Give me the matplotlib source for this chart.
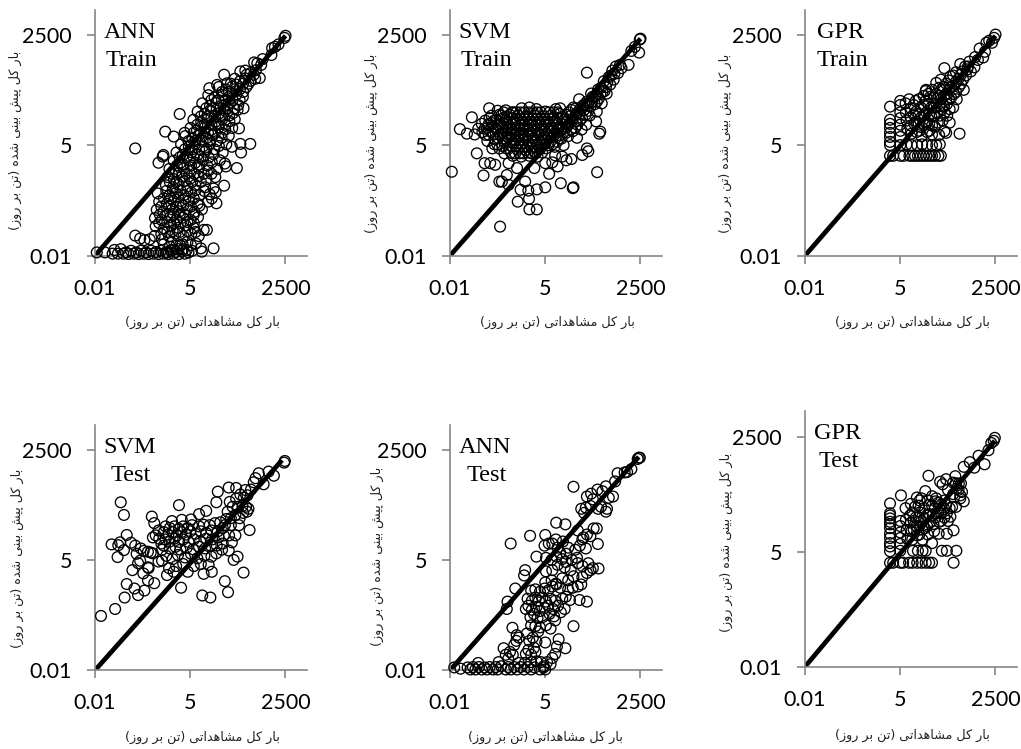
import numpy as np
import matplotlib
matplotlib.use('Agg')
import matplotlib.pyplot as plt

W, H = 1021, 749

ann_train = [
(-1.95,-1.92),(-1.72,-1.92),(-1.5,-1.95),(-1.45,-1.86),(-1.35,-1.95),(-1.27,-1.84),(-1.2,-1.95),(-1.12,-1.92),(-1.05,-1.96),(-0.98,-1.88),
(-0.9,-1.95),(-0.83,-1.92),(-0.76,-1.96),(-0.7,-1.88),(-0.62,-1.95),(-0.55,-1.92),(-0.48,-1.96),(-0.41,-1.88),(-0.34,-1.95),(-0.27,-1.91),
(-0.2,-1.96),(-0.13,-1.88),(-0.06,-1.95),(0.01,-1.92),(0.08,-1.96),(0.15,-1.88),(0.22,-1.95),(0.3,-1.91),(0.38,-1.96),(0.46,-1.88),
(0.55,-1.95),(0.65,-1.92),(0.75,-1.88),(1.03,-1.9),(1.0,-1.82),(1.36,-1.82),(-0.86,-1.51),(-0.72,-1.58),(-0.6,-1.62),(-0.45,-1.6),
(-0.05,-1.72),(0.18,-1.68),(0.41,-1.74),(0.62,-1.66),(0.86,-1.7),(-0.31,-1.52),(-0.12,-1.47),(0.1,-1.53),(0.28,-1.46),(0.51,-1.52),
(0.73,-1.47),(0.94,-1.52),(-0.28,-1.28),(-0.04,-1.33),(0.16,-1.27),(0.36,-1.32),(0.57,-1.26),(0.81,-1.33),(1.08,-1.37),(1.17,-1.37),
(-0.3,-1.08),(-0.11,-1.13),(0.13,-1.06),(0.31,-1.12),(0.49,-1.07),(0.71,-1.13),(0.92,-1.06),(-0.25,-0.88),(-0.06,-0.93),(0.19,-0.87),
(0.39,-0.92),(0.61,-0.86),(0.82,-0.93),(1.03,-0.87),(-0.18,-0.68),(0.04,-0.73),(0.23,-0.67),(0.43,-0.72),(0.66,-0.66),(0.91,-0.73),
(1.21,-0.68),(-0.22,-0.48),(0.11,-0.53),(0.29,-0.47),(0.52,-0.52),(0.73,-0.46),(0.96,-0.52),(1.31,-0.6),(1.44,-0.72),(1.42,-0.45),
(0.01,-0.28),(0.21,-0.33),(0.37,-0.26),(0.62,-0.31),(0.84,-0.27),(1.12,-0.33),(1.36,-0.36),(1.66,-0.29),(1.25,-0.5),(0.06,-0.08),
(0.24,-0.13),(0.46,-0.07),(0.69,-0.12),(0.93,-0.06),(1.16,-0.13),(1.41,-0.08),(0.11,0.12),(0.29,0.06),(0.51,0.13),(0.73,0.07),
(0.94,0.14),(1.22,0.08),(1.46,0.12),(2.02,0.14),(0.23,0.32),(0.41,0.26),(0.66,0.33),(0.84,0.27),(1.06,0.34),(1.31,0.28),
(1.54,0.33),(1.71,0.18),(1.68,0.25),(-0.2,0.27),(-0.06,0.46),(-0.08,0.42),(0.31,0.52),(0.49,0.46),(0.73,0.53),(0.91,0.47),
(1.12,0.54),(1.36,0.48),(1.62,0.52),(2.14,0.52),(2.12,0.73),(2.4,0.73),(0.44,0.72),(0.66,0.66),(0.84,0.73),(1.06,0.67),
(1.26,0.74),(1.51,0.68),(1.72,0.72),(1.88,0.66),(-0.86,0.62),(0.56,0.92),(0.76,0.86),(0.94,0.93),(1.16,0.87),(1.34,0.94),
(1.59,0.88),(1.79,0.93),(0.23,0.91),(-0.01,1.03),(0.54,1.0),(0.71,1.12),(0.89,1.06),(1.11,1.13),(1.29,1.07),(1.51,1.14),
(1.69,1.08),(1.89,1.12),(2.08,1.11),(0.79,1.32),(1.01,1.26),(1.19,1.33),(1.41,1.27),(1.61,1.34),(1.81,1.28),(1.96,1.33),
(0.4,1.46),(0.91,1.52),(1.11,1.46),(1.29,1.53),(1.51,1.47),(1.69,1.54),(1.91,1.48),(2.04,1.56),(2.21,1.6),(1.04,1.72),
(1.26,1.66),(1.44,1.73),(1.66,1.67),(1.84,1.74),(2.06,1.68),(1.21,1.92),(1.39,1.86),(1.61,1.93),(1.79,1.87),(2.01,1.94),
(2.19,1.88),(1.24,2.09),(1.51,2.12),(1.71,2.06),(1.89,2.13),(2.11,2.07),(2.29,2.12),(1.46,2.17),(1.74,2.21),(1.96,2.32),
(2.11,2.26),(2.26,2.33),(2.41,2.27),(2.54,2.32),(1.66,2.42),(2.12,2.5),(2.26,2.52),(2.41,2.46),(2.56,2.53),(2.67,2.34),
(2.51,2.72),(2.6,2.7),(2.71,2.66),(2.75,2.8),(3.02,3.07),(3.0,2.9),(3.1,3.1),(3.2,3.16),(3.4,3.37),(3.37,3.32),
# the dark middle of the cloud
(0.05,-1.92),(0.2,-1.86),(0.35,-1.84),(0.5,-1.84),(0.6,-1.86),(0.12,-1.78),(0.3,-1.76),(0.48,-1.72),(0.72,-1.74),(-0.1,-1.6),
(0.05,-1.42),(0.2,-1.4),(0.4,-1.42),(0.62,-1.4),(0.85,-1.42),(-0.18,-1.2),(0.05,-1.18),(0.24,-1.2),(0.42,-1.2),(0.62,-1.18),
(0.8,-1.2),(-0.16,-1.0),(0.05,-1.0),(0.22,-0.98),(0.4,-1.0),(0.56,-1.0),(0.8,-1.0),(-0.12,-0.8),(0.1,-0.8),(0.3,-0.8),
(0.5,-0.78),(0.72,-0.8),(0.96,-0.78),(-0.05,-0.6),(0.15,-0.6),(0.35,-0.58),(0.56,-0.6),(0.8,-0.6),(0.02,-0.42),(0.2,-0.4),
(0.42,-0.4),(0.62,-0.42),(0.85,-0.4),(1.1,-0.42),(0.12,-0.2),(0.3,-0.2),(0.52,-0.18),(0.75,-0.2),(1.0,-0.2),(0.18,0.0),
(0.38,0.02),(0.6,0.0),(0.82,0.0),(1.08,0.0),(1.3,0.0),(0.32,0.2),(0.5,0.22),(0.72,0.2),(0.95,0.22),(1.18,0.2),
(0.4,0.4),(0.6,0.4),(0.8,0.4),(1.0,0.42),(1.22,0.4),(0.55,0.6),(0.75,0.6),(0.95,0.6),(1.16,0.6),(1.38,0.6),
(0.65,0.8),(0.85,0.8),(1.05,0.8),(1.25,0.8),(1.46,0.8),(0.8,1.0),(1.0,1.0),(1.2,1.0),(1.4,1.0),(1.6,1.0),
(0.9,1.2),(1.1,1.2),(1.3,1.2),(1.5,1.2),(1.7,1.2),(1.0,1.4),(1.2,1.4),(1.4,1.4),(1.6,1.4),(1.8,1.42),
(1.15,1.6),(1.35,1.6),(1.55,1.6),(1.75,1.6),(1.95,1.6),(1.3,1.8),(1.5,1.8),(1.7,1.8),(1.9,1.8),(2.1,1.8),
(1.6,2.0),(1.8,2.0),(2.0,2.02),(2.2,2.0),(1.85,2.2),(2.0,2.18),(2.2,2.2),(2.35,2.2),(2.3,2.42),(2.5,2.42),
]

svm_train = [
(-1.95,0.05),(-1.72,1.09),(-1.38,1.38),(-0.89,1.6),(-0.58,-1.29),(-0.08,-0.68),(0.25,-0.87),(0.46,-0.87),(0.24,-0.61),(0.0,-0.39),
(0.22,-0.41),(0.46,-0.38),(0.7,-0.33),(1.14,-0.23),(1.48,-0.35),(1.5,-0.33),(2.17,0.04),(2.26,1.03),(2.23,0.98),(1.88,2.47),
(-1.05,-0.04),(-0.6,-0.19),(-0.53,-0.19),(-0.34,-0.27),(0.13,-0.19),(-0.39,-0.03),(0.81,0.0),(-1.24,0.5),(-1.02,0.26),(-0.86,0.26),
(-0.72,0.22),(-0.34,0.26),(-0.1,0.14),(0.39,0.14),(0.7,0.26),(0.9,0.28),(1.05,0.18),(1.3,0.33),(1.44,0.36),(1.75,0.46),
(1.88,0.62),(1.92,0.55),(1.18,0.42),(0.98,0.45),(-1.52,0.98),(-1.3,0.96),(-1.2,1.1),(-1.1,1.22),(-1.0,1.3),(-0.82,1.42),
(-0.65,1.54),(-0.42,1.55),(-0.2,1.5),(0.03,1.6),(0.25,1.62),(0.45,1.58),(0.7,1.52),(1.0,1.58),(1.12,1.6),
(-1.08,1.02),(-0.95,1.12),(-0.94,0.8),(-0.8,0.62),(-0.83,1.02),(-0.82,1.24),(-0.72,0.84),(-0.7,1.1),(-0.68,1.32),(-0.6,0.62),
(-0.58,0.96),(-0.57,1.22),(-0.55,1.42),(-0.46,0.5),(-0.46,0.78),(-0.44,1.06),(-0.43,1.3),(-0.35,0.9),(-0.33,0.62),(-0.32,1.16),
(-0.31,1.44),(-0.22,0.44),(-0.22,0.76),(-0.2,1.02),(-0.19,1.28),(-0.1,0.9),(-0.1,0.6),(-0.08,1.14),(-0.07,1.42),(0.02,0.42),
(0.02,0.74),(0.03,1.0),(0.05,1.26),(0.13,0.88),(0.14,0.58),(0.15,1.14),(0.17,1.4),(0.25,0.44),(0.26,0.72),(0.27,1.0),
(0.28,1.26),(0.36,0.86),(0.37,0.56),(0.38,1.14),(0.4,1.42),(0.48,0.42),(0.49,0.72),(0.5,1.0),(0.52,1.26),(0.6,0.86),
(0.61,0.52),(0.62,1.14),(0.63,1.4),(0.72,0.62),(0.73,0.98),(0.74,1.26),(0.84,0.78),(0.85,1.12),(0.86,1.42),(0.97,0.66),
(0.97,0.96),(0.98,1.28),(1.1,0.86),(1.1,1.14),(1.11,1.46),(1.22,0.7),(1.23,1.02),(1.24,1.32),(1.35,0.92),(1.36,1.2),
(1.37,1.5),(1.48,1.04),(1.48,1.34),(1.5,1.62),(1.6,0.88),(1.61,1.2),(1.62,1.5),(1.66,1.82),(1.73,1.08),(1.74,1.36),
(1.76,1.66),(1.84,1.44),(1.86,1.2),(1.88,1.76),(1.96,1.42),(1.98,1.64),(2.0,1.96),(2.1,1.7),(2.12,1.9),(2.14,1.28),
(2.16,1.52),(2.2,2.06),(2.22,1.84),(2.3,1.72),(2.32,2.0),(2.36,2.26),(2.42,2.12),(2.44,1.96),(2.5,2.36),(2.54,2.18),
(2.6,2.52),(2.64,2.3),(2.7,2.62),(2.76,2.46),(2.82,2.66),(2.86,2.58),(3.06,2.66),(3.14,3.0),(3.24,3.1),(3.36,2.96),(3.4,3.3),(3.38,3.28),
# the black blob
(-1.0,0.95),(-1.02,1.1),(-0.9,0.95),(-0.9,1.22),(-0.88,1.36),(-0.76,0.96),(-0.76,1.15),(-0.75,1.3),(-0.74,0.72),(-0.66,0.72),
(-0.64,0.88),(-0.63,1.04),(-0.62,1.18),(-0.6,1.44),(-0.52,0.68),(-0.51,0.86),(-0.5,0.98),(-0.5,1.14),(-0.49,1.36),(-0.48,1.5),
(-0.4,0.62),(-0.39,0.82),(-0.38,0.98),(-0.38,1.12),(-0.37,1.24),(-0.36,1.38),(-0.27,0.52),(-0.27,0.68),(-0.26,0.84),(-0.26,0.96),
(-0.25,1.1),(-0.25,1.22),(-0.24,1.36),(-0.24,1.5),(-0.15,0.5),(-0.15,0.68),(-0.15,0.82),(-0.14,0.98),(-0.14,1.08),(-0.14,1.22),
(-0.13,1.34),(-0.12,1.5),(-0.03,0.5),(-0.03,0.66),(-0.03,0.82),(-0.02,0.94),(-0.02,1.08),(-0.02,1.2),(-0.01,1.34),(-0.01,1.5),
(0.08,0.5),(0.08,0.66),(0.08,0.82),(0.09,0.94),(0.09,1.08),(0.1,1.2),(0.1,1.34),(0.11,1.5),(0.2,0.52),(0.2,0.66),
(0.2,0.8),(0.21,0.94),(0.21,1.08),(0.22,1.2),(0.22,1.34),(0.23,1.5),(0.31,0.5),(0.31,0.64),(0.32,0.8),(0.32,0.94),
(0.33,1.06),(0.33,1.2),(0.34,1.34),(0.35,1.5),(0.43,0.5),(0.43,0.64),(0.44,0.8),(0.44,0.94),(0.45,1.06),(0.45,1.2),
(0.46,1.34),(0.47,1.5),(0.55,0.6),(0.55,0.78),(0.56,0.94),(0.56,1.06),(0.57,1.2),(0.57,1.34),(0.58,1.5),(0.66,0.72),
(0.67,0.86),(0.67,1.06),(0.68,1.2),(0.68,1.34),(0.79,0.7),(0.79,0.88),(0.8,1.04),(0.8,1.2),(0.81,1.34),(0.81,1.5),
(0.9,0.72),(0.91,0.9),(0.92,1.04),(0.92,1.2),(0.93,1.36),(0.94,1.5),(1.03,0.78),(1.04,0.94),(1.04,1.08),(1.05,1.22),
(1.05,1.36),(1.06,1.5),(1.16,0.86),(1.16,1.08),(1.17,1.22),(1.18,1.38),(1.29,1.0),(1.3,1.14),(1.3,1.28),(1.31,1.44),
(1.42,1.08),(1.42,1.26),(1.43,1.42),(1.44,1.56),(1.55,1.12),(1.56,1.28),(1.56,1.44),(1.57,1.6),(1.68,1.3),(1.68,1.46),
(1.7,1.6),(1.8,1.56),(1.82,1.7),(1.92,1.54),(1.92,1.72),(2.03,1.76),(2.04,1.88),(2.16,1.92),(2.16,1.76),(2.26,1.94),
(2.28,2.1),(2.38,2.02),(2.46,2.24),(2.56,2.4),(2.66,2.44),
]

gpr_train = [
(0.41,1.64),(0.41,1.32),(0.41,1.22),(0.41,1.12),(0.41,1.0),(0.41,0.9),(0.41,0.78),(0.41,0.7),(0.41,0.44),(0.5,0.44),
(0.7,1.78),(0.7,1.68),(0.7,1.5),(0.7,1.36),(0.7,1.2),(0.7,1.05),(0.7,0.9),(0.7,0.7),(0.7,0.44),(0.8,0.44),
(0.96,0.44),(1.04,0.44),(1.12,0.44),(1.2,0.44),(1.28,0.44),(1.36,0.44),(1.44,0.44),(1.52,0.44),(1.6,0.44),(1.68,0.44),(1.78,0.44),(1.85,0.44),
(0.88,0.72),(1.02,0.7),(1.18,0.7),(1.32,0.72),(1.46,0.7),(1.6,0.7),(1.72,0.7),(1.82,0.72),
(0.95,1.82),(1.0,1.6),(1.0,1.38),(1.0,1.18),(1.02,0.98),(1.14,1.78),(1.15,1.52),(1.16,1.28),(1.16,1.02),(1.22,1.82),(1.28,1.62),
(1.3,1.38),(1.3,1.14),(1.3,0.92),(1.42,2.02),(1.42,1.78),(1.44,1.5),(1.45,1.26),(1.46,1.02),(1.43,2.05),(1.6,2.05),(1.55,1.88),
(1.58,1.62),(1.58,1.4),(1.6,1.18),(1.6,0.96),(1.72,2.22),(1.72,1.95),(1.72,1.72),(1.74,1.48),(1.76,1.25),(1.8,0.95),(1.85,2.3),
(1.86,2.05),(1.86,1.82),(1.88,1.58),(1.9,1.3),(1.95,2.58),(1.95,1.04),(2.0,2.2),(2.0,1.95),(2.02,1.7),(2.03,1.42),
(2.0,1.0),(2.12,2.38),(2.14,2.12),(2.14,1.86),(2.2,1.62),(2.1,1.25),(2.28,2.48),(2.28,2.25),(2.28,2.0),(2.3,1.82),(2.38,0.98),
(2.4,2.68),(2.42,2.42),(2.42,2.2),(2.5,2.05),(2.54,2.62),(2.56,2.4),(2.66,2.74),(2.7,2.5),(2.8,2.6),(2.82,2.85),(2.9,2.78),
(2.95,3.06),(3.05,2.84),(3.1,2.98),(3.14,3.2),(3.22,3.25),(3.3,3.2),(3.4,3.4),(3.36,3.32),
# the dark part beside the line
(0.85,1.72),(0.86,1.5),(0.88,1.3),(0.9,1.1),(1.08,1.68),(1.08,1.45),(1.1,1.22),(1.22,1.45),(1.22,1.22),(1.24,1.05),
(1.36,1.9),(1.36,1.68),(1.38,1.45),(1.38,1.2),(1.5,1.95),(1.5,1.7),(1.52,1.45),(1.52,1.22),(1.52,1.05),(1.65,1.85),
(1.66,1.62),(1.66,1.4),(1.68,1.15),(1.8,2.1),(1.8,1.9),(1.8,1.65),(1.82,1.42),(1.93,2.12),(1.94,1.9),(1.94,1.65),
(1.96,1.5),(2.08,2.28),(2.08,2.05),(2.08,1.82),(2.1,1.58),(2.2,2.4),(2.2,2.15),(2.22,1.95),(2.35,2.32),(2.36,2.12),
(2.46,2.5),(2.48,2.3),(2.6,2.55),(2.62,2.62),
]

svm_test = [
(-1.83,-0.67),(-1.43,-0.5),(-1.16,-0.22),(-1.1,0.11),(-0.88,0.0),(-0.78,-0.16),(-0.6,-0.05),(-0.32,0.13),(-0.5,0.2),(-0.63,0.37),
(-0.48,0.5),(-0.5,0.52),(-0.94,0.45),(-1.53,1.08),(-1.34,1.06),(-1.29,1.13),(-1.18,0.94),(-1.36,0.77),(-1.1,1.31),(-1.27,2.11),
(-1.18,1.8),(-0.98,1.12),(-0.86,1.05),(-0.82,0.85),(-0.78,0.62),(-0.72,0.68),(-0.7,0.98),(-0.62,0.92),(-0.5,0.9),(-0.42,0.88),
(-0.36,0.86),(-0.2,0.66),(-0.1,0.68),(-0.39,1.76),(-0.32,1.6),(-0.36,1.25),(-0.28,1.3),(-0.2,1.42),(-0.12,1.1),(-0.1,0.95),
(0.18,1.65),(0.38,2.04),(0.46,1.68),(0.72,1.69),(0.95,1.82),(1.15,1.9),(1.44,2.11),(1.48,2.37),(1.79,2.47),(2.0,2.46),
(2.64,2.82),(2.92,2.86),(3.07,2.76),(2.78,2.55),(2.5,2.6),(2.26,2.41),(2.31,1.88),(2.38,1.43),(2.21,0.39),(2.04,0.78),
(1.93,0.7),(1.68,0.18),(1.77,-0.09),(1.27,-0.22),(1.04,-0.17),(1.08,0.36),(1.31,0.41),(1.22,0.58),(0.44,0.02),(0.04,0.33),
(0.23,0.41),(0.63,0.41),(1.88,1.13),(1.79,0.93),(1.44,0.86),(0.1,0.5),(0.3,0.55),(0.5,0.6),(0.8,0.55),(1.0,0.6),
(0.02,0.8),(0.2,0.72),(0.35,0.82),(0.55,0.76),(0.72,0.85),(0.9,0.74),(1.1,0.8),(1.3,0.78),(1.6,0.95),(-0.05,1.05),
(0.12,0.98),(0.28,1.02),(0.42,0.95),(0.6,1.0),(0.78,0.96),(0.95,1.02),(1.12,0.98),(1.28,1.05),(1.45,1.05),(1.62,1.1),
(-0.18,1.22),(0.0,1.2),(0.12,1.15),(0.25,1.22),(0.38,1.14),(0.5,1.2),(0.65,1.14),(0.8,1.2),(0.98,1.16),(1.15,1.22),
(1.32,1.2),(1.5,1.25),(1.65,1.3),(1.8,1.3),(1.98,1.3),(2.08,1.55),(-0.05,1.38),(0.08,1.32),(0.2,1.38),(0.32,1.3),
(0.45,1.38),(0.58,1.32),(0.7,1.4),(0.85,1.34),(1.0,1.4),(1.15,1.36),(1.3,1.42),(1.48,1.4),(1.62,1.48),(1.85,1.55),
(0.0,1.52),(0.12,1.48),(0.25,1.52),(0.38,1.46),(0.5,1.52),(0.62,1.48),(0.75,1.55),(0.95,1.52),(1.08,1.56),(1.25,1.55),
(1.4,1.6),(1.55,1.62),(1.72,1.7),(1.85,1.72),(1.98,1.8),(2.1,1.72),(2.2,1.85),(2.18,2.02),(1.9,2.0),(1.82,2.12),
(1.76,1.88),(2.05,2.0),(2.28,2.0),(2.35,1.95),(2.0,2.2),(2.12,2.3),(2.22,2.22),(2.32,2.28),(1.68,1.55),
(2.55,2.7),(3.36,3.08),(3.38,3.12),(2.42,2.42),
]

ann_test = [
(-1.88,-1.93),(-1.7,-1.96),(-1.5,-1.93),(-1.42,-1.98),(-1.35,-1.92),(-1.28,-1.98),(-1.2,-1.82),(-1.18,-1.92),(-1.1,-1.98),(-1.02,-1.93),
(-0.95,-1.98),(-0.88,-1.92),(-0.78,-1.98),(-0.7,-1.92),(-0.65,-1.98),(-0.62,-1.8),(-0.55,-1.9),(-0.42,-1.98),(-0.35,-1.92),(-0.28,-1.98),
(-0.18,-1.92),(-0.1,-1.98),(0.0,-1.92),(0.1,-1.98),(0.2,-1.92),(0.3,-1.98),(0.4,-1.93),(0.55,-1.98),(0.65,-1.93),(0.7,-1.98),(0.66,-1.9),
(-0.05,-1.82),(0.12,-1.82),(0.3,-1.8),(0.45,-1.78),(0.58,-1.8),(0.75,-1.8),(0.85,-1.85),
(-0.48,-1.46),(-0.42,-1.62),(-0.35,-1.72),(-0.3,-1.55),(-0.22,-1.62),(-0.11,-1.14),(-0.23,-0.96),(-0.18,-1.38),(-0.12,-1.28),(-0.05,-1.2),
(0.15,-1.6),(0.22,-1.5),(0.3,-1.62),(0.38,-1.45),(0.25,-1.28),(0.35,-1.2),(0.45,-1.3),(0.18,-1.1),(0.5,-1.05),(0.42,-1.55),
(0.7,-1.32),(1.08,-1.24),(1.27,-1.46),(1.03,-1.42),(0.98,-1.6),(0.9,-1.7),(0.3,-0.9),(0.42,-0.92),(0.55,-0.95),(0.72,-0.9),
(0.85,-0.98),(0.98,-0.78),(1.5,-0.92),(0.28,-0.7),(0.38,-0.62),(0.48,-0.72),(0.62,-0.7),(0.82,-0.62),(0.95,-0.68),(1.25,-0.5),
(0.15,-0.5),(0.22,-0.42),(0.32,-0.52),(0.45,-0.45),(0.55,-0.55),(0.68,-0.48),(0.78,-0.42),(0.92,-0.5),(1.06,-0.42),(1.14,-0.58),
(0.2,-0.25),(0.32,-0.3),(0.42,-0.22),(0.52,-0.3),(0.62,-0.22),(0.72,-0.32),(0.85,-0.25),(0.98,-0.3),(1.18,-0.25),(1.28,-0.2),
(1.4,-0.28),(1.67,-0.28),(1.88,-0.32),(-0.37,-0.32),(-0.39,-0.5),(-0.15,0.0),(0.13,0.45),(0.1,0.32),(0.3,-0.05),(0.42,-0.02),
(0.55,-0.08),(0.68,0.0),(0.78,-0.05),(0.9,0.05),(1.02,0.1),(1.12,0.02),(1.35,-0.02),(1.48,0.02),(1.62,0.05),(1.72,0.1),
(0.7,0.15),(0.88,0.2),(1.0,0.12),(1.18,0.25),(1.35,0.2),(1.5,0.3),(1.75,0.28),(1.88,0.38),(1.98,0.45),(2.21,0.49),
(0.45,0.78),(0.72,0.42),(0.9,0.45),(1.05,0.58),(1.25,0.52),(1.42,0.45),(1.62,0.62),(1.75,0.55),(1.92,0.62),(2.05,0.5),
(0.72,0.75),(0.88,0.7),(1.02,0.78),(1.18,0.72),(1.28,0.65),(1.45,0.7),(1.6,0.75),(1.3,0.85),(1.12,0.88),(0.9,1.1),
(0.68,1.05),(0.8,1.1),(1.0,1.2),(1.05,1.0),(1.2,1.15),(1.35,1.0),(1.55,0.95),(1.68,1.05),(1.85,0.98),(1.75,1.2),
(-0.28,1.1),(0.27,1.29),(0.7,1.31),(1.01,1.61),(1.27,1.57),(1.5,2.49),(2.19,1.09),(2.07,1.47),(2.16,1.47),(1.88,1.32),
(1.98,1.28),(1.78,1.25),(1.62,1.42),(1.8,1.85),(1.72,1.95),(1.85,1.98),(1.98,2.02),(2.05,2.18),(2.2,1.95),(2.28,2.0),
(2.42,1.88),(2.45,1.95),(1.88,2.25),(2.0,2.32),(2.18,2.42),(2.32,2.38),(2.42,2.5),(2.5,2.22),(2.62,2.25),(2.68,2.62),(2.75,2.82),(2.95,2.84),
(3.14,2.92),(3.02,2.85),(3.35,3.2),(3.32,3.17),(3.38,3.2),
]

gpr_test = [
(0.41,1.83),(0.41,1.6),(0.41,1.55),(0.41,1.48),(0.41,1.4),(0.41,1.34),(0.41,1.25),(0.41,1.12),(0.41,1.02),(0.41,0.9),(0.41,0.82),(0.41,0.71),(0.41,0.44),(0.5,0.44),
(0.7,1.42),(0.7,1.3),(0.7,1.15),(0.7,1.02),(0.7,0.88),(0.7,0.72),(0.7,0.44),(0.78,0.44),(0.95,0.44),(1.05,0.44),(1.18,0.44),(1.3,0.44),(1.42,0.44),(1.52,0.44),(1.6,0.44),
(0.72,2.02),(1.0,1.82),(0.98,1.55),(1.0,1.38),(1.02,1.18),(1.04,0.98),(1.06,0.72),(1.2,0.72),(1.33,0.72),(1.42,0.72),(1.6,0.9),(1.88,0.72),(2.02,0.72),(2.29,0.72),(2.21,0.44),
(1.12,1.75),(1.14,1.5),(1.16,1.3),(1.18,1.08),(1.26,1.62),(1.3,1.42),(1.32,1.22),(1.33,0.98),(1.17,1.97),(1.25,1.9),(1.45,1.55),(1.46,1.3),(1.48,1.1),
(1.41,2.12),(1.6,1.78),(1.62,1.55),(1.64,1.35),(1.66,1.18),(1.78,1.85),(1.78,1.62),(1.8,1.4),(1.5,2.48),(1.83,2.34),(1.95,1.9),(1.95,1.7),(1.95,1.5),
(2.0,2.4),(2.1,1.72),(2.12,1.52),(2.21,1.2),(2.02,1.12),(1.79,1.12),(2.26,2.47),(2.28,1.75),(2.3,2.18),(2.17,1.75),(2.4,1.95),(2.28,2.3),(1.9,2.28),
(2.4,2.02),(2.5,1.88),(2.42,2.3),(2.5,2.69),(2.67,2.8),(2.35,2.15),(2.45,2.1),(2.2,2.05),(2.05,2.15),(1.6,2.0),(1.72,1.95),
(2.92,2.95),(2.8,2.67),(3.09,2.75),(3.2,3.08),(3.28,3.25),(3.35,3.3),(3.38,3.37),
(0.85,1.72),(0.86,1.45),(0.88,1.2),(0.9,1.0),(1.05,1.62),(1.08,1.42),(1.08,1.22),(1.22,1.78),(1.22,1.5),(1.24,1.3),(1.24,1.1),(1.38,1.72),
(1.38,1.48),(1.4,1.25),(1.52,1.8),(1.52,1.58),(1.54,1.38),(1.68,1.72),(1.7,1.5),(1.86,1.8),(1.86,1.6),(1.86,1.42),(2.0,1.8),(2.02,1.6),
(2.05,1.42),(1.3,1.95),(1.48,1.9),(1.7,1.88),(2.2,2.32),(2.36,2.3),
]

x_ticks = [0.01, 5, 2500]
tick_labels = ['0.01', '5', '2500']
line_start = 0.01
line_end = [(3.4, 3.37), (3.4, 3.3), (3.4, 3.37), (3.3, 3.14), (3.35, 3.22), (3.38, 3.3)]

model_names = ['ANN', 'SVM', 'GPR', 'SVM', 'ANN', 'GPR']
set_names = ['Train', 'Train', 'Train', 'Test', 'Test', 'Test']
panel_data = [ann_train, svm_train, gpr_train, svm_test, ann_test, gpr_test]

x_title = 'بار کل مشاهداتی (تن بر روز)'
y_title = 'بار کل پیش بینی شده (تن بر روز)'

# left, top, bottom in pixels, the axes are all 212 wide
boxes = [(95, 10, 255.7), (450, 10, 255.7), (805, 10, 255.7),
         (95, 425, 670.3), (450, 425, 670.3), (805, 411, 666.7)]
name_pos = [(130, 32), (485, 32), (841, 32), (130, 447), (485, 447), (838, 433)]
set_pos = [(131, 61), (486, 61), (842, 61), (131, 475), (487, 475), (839, 461)]
xlabel_pos = [(202, 322), (557, 322), (912, 322), (202, 737), (545, 737), (912, 735)]
ylabel_pos = [(15, 140), (371, 143), (725, 143), (17, 558), (377, 556), (726, 542)]

# matplotlib does no arabic shaping, so pick the presentation forms by hand
forms = {
    'ا': (0xFE8D, 0xFE8E), 'د': (0xFEA9, 0xFEAA), 'ر': (0xFEAD, 0xFEAE),
    'ز': (0xFEAF, 0xFEB0), 'و': (0xFEED, 0xFEEE),
    'ب': (0xFE8F, 0xFE90, 0xFE91, 0xFE92), 'پ': (0xFB56, 0xFB57, 0xFB58, 0xFB59),
    'ت': (0xFE95, 0xFE96, 0xFE97, 0xFE98), 'ش': (0xFEB5, 0xFEB6, 0xFEB7, 0xFEB8),
    'ک': (0xFB8E, 0xFB8F, 0xFB90, 0xFB91), 'ل': (0xFEDD, 0xFEDE, 0xFEDF, 0xFEE0),
    'م': (0xFEE1, 0xFEE2, 0xFEE3, 0xFEE4), 'ن': (0xFEE5, 0xFEE6, 0xFEE7, 0xFEE8),
    'ه': (0xFEE9, 0xFEEA, 0xFEEB, 0xFEEC), 'ی': (0xFBFC, 0xFBFD, 0xFBFE, 0xFBFF),
}

def shape(text):
    out = []
    for i, c in enumerate(text):
        if c not in forms:
            out.append({'(': ')', ')': '('}.get(c, c))
            continue
        prev = text[i - 1] if i > 0 else ' '
        nxt = text[i + 1] if i + 1 < len(text) else ' '
        joins_prev = prev in forms and len(forms[prev]) == 4
        joins_next = nxt in forms and len(forms[c]) == 4
        if joins_prev and joins_next:
            k = 3
        elif joins_next:
            k = 2
        elif joins_prev:
            k = 1
        else:
            k = 0
        out.append(chr(forms[c][k]))
    return ''.join(out[::-1])

def put_text(fig, px, py, s, **kw):
    fig.text(px / W, 1 - py / H, s, ha='center', va='center', **kw)

fig = plt.figure(figsize=(W / 100, H / 100), dpi=100)

for i, pts in enumerate(panel_data):
    left, top, bottom = boxes[i]
    ax = fig.add_axes([left / W, 1 - bottom / H, 211.7 / W, (bottom - top) / H])
    pts = np.array(pts)
    obs = 10.0 ** pts[:, 0]
    pred = 10.0 ** pts[:, 1]
    ax.scatter(obs, pred, s=60, facecolors='none', edgecolors='black', linewidths=0.95, clip_on=False, zorder=3)
    ex, ey = line_end[i]
    ax.plot([line_start, 10 ** ex], [line_start, 10 ** ey], color='black', lw=3.4, solid_capstyle='butt', zorder=2)
    ax.set_xscale('log')
    ax.set_yscale('log')
    ax.set_xlim(0.01, 10000)
    ax.set_ylim(0.01, 10000)
    ax.set_xticks(x_ticks)
    ax.set_yticks(x_ticks)
    ax.set_xticklabels(tick_labels)
    ax.set_yticklabels(tick_labels)
    ax.minorticks_off()
    ax.spines['top'].set_visible(False)
    ax.spines['right'].set_visible(False)
    for side in ['left', 'bottom']:
        ax.spines[side].set_color('#868686')
        ax.spines[side].set_linewidth(1.2)
    ax.tick_params(axis='both', length=5.5, width=1.2, color='#868686', pad=11, labelsize=15.5)
    for lab in ax.get_xticklabels() + ax.get_yticklabels():
        lab.set_fontfamily('Lato')

    put_text(fig, *name_pos[i], model_names[i], family='Liberation Serif', fontsize=17.5)
    put_text(fig, *set_pos[i], set_names[i], family='Liberation Serif', fontsize=17.5)
    put_text(fig, *xlabel_pos[i], shape(x_title), family='DejaVu Sans', fontsize=9.2, color='#222222')
    put_text(fig, *ylabel_pos[i], shape(y_title), family='DejaVu Sans', fontsize=9.2, color='#222222', rotation=90)

fig.savefig('out.png', dpi=100)
